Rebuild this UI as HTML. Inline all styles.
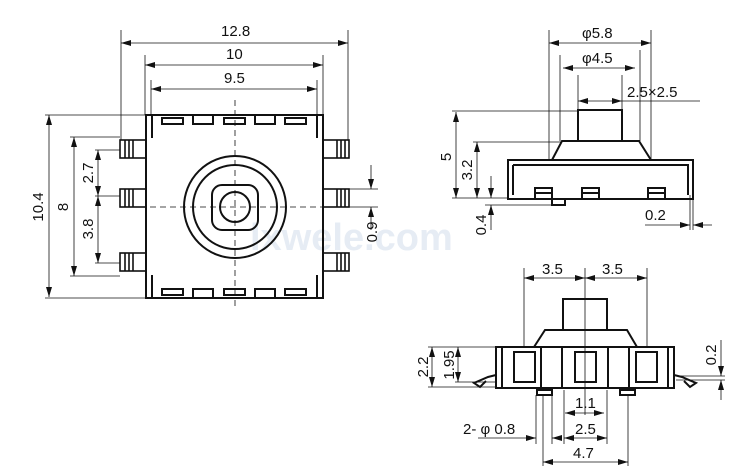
<!DOCTYPE html>
<html><head><meta charset="utf-8"><style>
html,body{margin:0;padding:0;background:#fff}
svg{display:block}
text{font-family:"Liberation Sans",sans-serif;font-size:15px;fill:#111}
</style></head><body>
<svg width="737" height="471" viewBox="0 0 737 471" xmlns="http://www.w3.org/2000/svg">
<defs>
<marker id="a" viewBox="0 0 10 6" refX="10" refY="3" markerWidth="10" markerHeight="6" orient="auto-start-reverse" markerUnits="userSpaceOnUse"><path d="M0,0L10,3L0,6z" fill="#111"/></marker>
</defs>
<text x="250" y="250" style="font-size:38px;fill:#e6ecf4;font-weight:bold">lxwele.com</text>
<g stroke="#111" fill="none">
<!-- FRONT VIEW -->
<g stroke-width="0.8">
<line x1="121" y1="30" x2="121" y2="140"/><line x1="348" y1="30" x2="348" y2="140"/>
<line x1="145" y1="55" x2="145" y2="115"/><line x1="323" y1="55" x2="323" y2="115"/>
<line x1="151" y1="80" x2="151" y2="115"/><line x1="317" y1="80" x2="317" y2="115"/>
<line x1="121" y1="43" x2="348" y2="43" marker-start="url(#a)" marker-end="url(#a)"/>
<line x1="145" y1="65" x2="323" y2="65" marker-start="url(#a)" marker-end="url(#a)"/>
<line x1="151" y1="89" x2="317" y2="89" marker-start="url(#a)" marker-end="url(#a)"/>
<line x1="45" y1="115" x2="146" y2="115"/><line x1="45" y1="298" x2="146" y2="298"/>
<line x1="70" y1="137" x2="120" y2="137"/><line x1="70" y1="276" x2="120" y2="276"/>
<line x1="95" y1="150" x2="120" y2="150"/><line x1="95" y1="196" x2="120" y2="196"/><line x1="95" y1="263" x2="120" y2="263"/>
<line x1="49" y1="115" x2="49" y2="297" marker-start="url(#a)" marker-end="url(#a)"/>
<line x1="74" y1="137" x2="74" y2="276" marker-start="url(#a)" marker-end="url(#a)"/>
<line x1="98" y1="150" x2="98" y2="196" marker-start="url(#a)" marker-end="url(#a)"/>
<line x1="98" y1="196" x2="98" y2="263" marker-start="url(#a)" marker-end="url(#a)"/>
<line x1="349" y1="189" x2="378" y2="189"/><line x1="349" y1="207" x2="378" y2="207"/>
<line x1="371" y1="165" x2="371" y2="189" marker-end="url(#a)"/>
<line x1="371" y1="230" x2="371" y2="207" marker-end="url(#a)"/>
<line x1="235" y1="100" x2="235" y2="310" stroke-dasharray="6,4"/>
<line x1="130" y1="207" x2="345" y2="207" stroke-dasharray="6,4"/>
</g>
<g stroke-width="2">
<rect x="146" y="115" width="177" height="183"/>
<path d="M152 115V138M317 115V138M152 298V275M317 298V275"/>
<rect x="162" y="118" width="21" height="6"/><rect x="224" y="118" width="21" height="6"/><rect x="285" y="118" width="21" height="6"/>
<path d="M193 115V124H213V115M255 115V124H275V115"/>
<rect x="162" y="289" width="21" height="6"/><rect x="224" y="289" width="21" height="6"/><rect x="285" y="289" width="21" height="6"/>
<path d="M193 298V289H213V298M255 298V289H275V298"/>
<circle cx="235" cy="207" r="51"/><circle cx="235" cy="207" r="42"/>
<rect x="212" y="185" width="46" height="45" rx="10"/>
<circle cx="235" cy="207" r="15"/>
</g>
<g stroke-width="1.6">
<rect x="120" y="140" width="26" height="18"/><rect x="120" y="189" width="26" height="18"/><rect x="120" y="253" width="26" height="18"/>
<rect x="323" y="140" width="26" height="18"/><rect x="323" y="189" width="26" height="18"/><rect x="323" y="253" width="26" height="18"/>
<path d="M125 140v18M129 140v18M133 140v18M337 140v18M341 140v18M345 140v18M125 189v18M129 189v18M133 189v18M337 189v18M341 189v18M345 189v18M125 253v18M129 253v18M133 253v18M337 253v18M341 253v18M345 253v18"/>
</g>

<!-- SIDE VIEW -->
<g stroke-width="0.8">
<line x1="549" y1="30" x2="549" y2="160"/><line x1="651" y1="30" x2="651" y2="160"/>
<line x1="560" y1="55" x2="560" y2="141"/><line x1="640" y1="50" x2="640" y2="141"/>
<line x1="578" y1="75" x2="578" y2="110"/><line x1="622" y1="75" x2="622" y2="110"/>
<line x1="549" y1="43" x2="651" y2="43" marker-start="url(#a)" marker-end="url(#a)"/>
<line x1="563" y1="68" x2="635" y2="68" marker-start="url(#a)" marker-end="url(#a)"/>
<line x1="578" y1="101" x2="622" y2="101" marker-start="url(#a)" marker-end="url(#a)"/>
<line x1="622" y1="101" x2="700" y2="101"/>
<line x1="452" y1="111" x2="578" y2="111"/><line x1="473" y1="142" x2="561" y2="142"/>
<line x1="452" y1="198" x2="508" y2="198"/><line x1="485" y1="205" x2="555" y2="205"/>
<line x1="456" y1="112" x2="456" y2="198" marker-start="url(#a)" marker-end="url(#a)"/>
<line x1="477" y1="142" x2="477" y2="198" marker-start="url(#a)" marker-end="url(#a)"/>
<line x1="491" y1="176" x2="491" y2="198" marker-end="url(#a)"/>
<line x1="491" y1="230" x2="491" y2="205" marker-end="url(#a)"/>
<line x1="690" y1="195" x2="690" y2="230"/><line x1="693" y1="195" x2="693" y2="230"/>
<line x1="645" y1="225" x2="690" y2="225" marker-end="url(#a)"/>
<line x1="712" y1="225" x2="693" y2="225" marker-end="url(#a)"/>
</g>
<g stroke-width="2">
<rect x="508" y="160" width="185" height="39"/>
<path d="M513 165H688V195M513 165V195"/>
<path d="M552 160L562 141H639L651 160"/>
<rect x="578" y="110" width="44" height="31"/>
<rect x="535" y="188" width="17" height="11"/><rect x="582" y="188" width="17" height="11"/><rect x="648" y="188" width="17" height="11"/>
<rect x="552" y="199" width="13" height="6"/>
<path d="M535 193h17M582 193h17M648 193h17"/>
</g>

<!-- BOTTOM VIEW -->
<g stroke-width="0.8">
<line x1="524" y1="268" x2="524" y2="347"/><line x1="647" y1="268" x2="647" y2="347"/>
<line x1="585" y1="268" x2="585" y2="415"/>
<line x1="524" y1="278" x2="585" y2="278" marker-start="url(#a)" marker-end="url(#a)"/>
<line x1="585" y1="278" x2="647" y2="278" marker-start="url(#a)" marker-end="url(#a)"/>
<line x1="428" y1="347" x2="496" y2="347"/><line x1="428" y1="387" x2="496" y2="387"/><line x1="455" y1="382" x2="496" y2="382"/>
<line x1="432" y1="347" x2="432" y2="387" marker-start="url(#a)" marker-end="url(#a)"/>
<line x1="458" y1="347" x2="458" y2="382" marker-start="url(#a)" marker-end="url(#a)"/>
<line x1="676" y1="376" x2="725" y2="376"/><line x1="676" y1="380" x2="725" y2="380"/>
<line x1="721" y1="340" x2="721" y2="376" marker-end="url(#a)"/>
<line x1="721" y1="400" x2="721" y2="380" marker-end="url(#a)"/>
<line x1="536" y1="395" x2="536" y2="444"/><line x1="552" y1="395" x2="552" y2="444"/>
<line x1="543" y1="395" x2="543" y2="466"/><line x1="628" y1="395" x2="628" y2="466"/>
<line x1="564" y1="390" x2="564" y2="444"/><line x1="607" y1="390" x2="607" y2="444"/>
<line x1="565" y1="413" x2="585" y2="413" marker-start="url(#a)"/>
<line x1="585" y1="413" x2="604" y2="413" marker-end="url(#a)"/>
<line x1="564" y1="438" x2="607" y2="438" marker-start="url(#a)" marker-end="url(#a)"/>
<line x1="478" y1="438" x2="536" y2="438" marker-end="url(#a)"/>
<line x1="557" y1="438" x2="552" y2="438" marker-end="url(#a)"/>
<line x1="543" y1="462" x2="628" y2="462" marker-start="url(#a)" marker-end="url(#a)"/>
</g>
<g stroke-width="2">
<rect x="496" y="347" width="178" height="41"/>
<path d="M502 347V388M668 347V388M541 347V388M629 347V388M562 347V388M608 347V388"/>
<rect x="514" y="352" width="21" height="30"/><rect x="575" y="352" width="21" height="30"/><rect x="636" y="352" width="21" height="30"/>
<path d="M534 347L545 330H627L637 347"/>
<rect x="563" y="299" width="44" height="31"/>
<rect x="537" y="390" width="15" height="5"/><rect x="620" y="390" width="15" height="5"/>
<path d="M496 375L488 377L474 383L480 387L486 381"/>
<path d="M674 375L682 377L696 383L690 387L684 381"/>
</g>
</g>

<!-- TEXT -->
<text x="221" y="36">12.8</text>
<text x="226" y="59">10</text>
<text x="224" y="83">9.5</text>
<text transform="translate(43 207) rotate(-90)" text-anchor="middle">10.4</text>
<text transform="translate(68 207) rotate(-90)" text-anchor="middle">8</text>
<text transform="translate(93 173) rotate(-90)" text-anchor="middle">2.7</text>
<text transform="translate(93 229) rotate(-90)" text-anchor="middle">3.8</text>
<text transform="translate(377 232) rotate(-90)" text-anchor="middle">0.9</text>

<text x="582" y="38">φ5.8</text>
<text x="582" y="63">φ4.5</text>
<text x="627" y="97">2.5×2.5</text>
<text transform="translate(451 157) rotate(-90)" text-anchor="middle">5</text>
<text transform="translate(472 170) rotate(-90)" text-anchor="middle">3.2</text>
<text transform="translate(486 225) rotate(-90)" text-anchor="middle">0.4</text>
<text x="645" y="220">0.2</text>

<text x="542" y="274">3.5</text>
<text x="602" y="274">3.5</text>
<text transform="translate(428 367) rotate(-90)" text-anchor="middle">2.2</text>
<text transform="translate(454 365) rotate(-90)" text-anchor="middle">1.95</text>
<text transform="translate(716 355) rotate(-90)" text-anchor="middle">0.2</text>
<text x="575" y="408">1.1</text>
<text x="575" y="434">2.5</text>
<text x="463" y="434">2- φ 0.8</text>
<text x="573" y="458">4.7</text>
</svg>
</body></html>
